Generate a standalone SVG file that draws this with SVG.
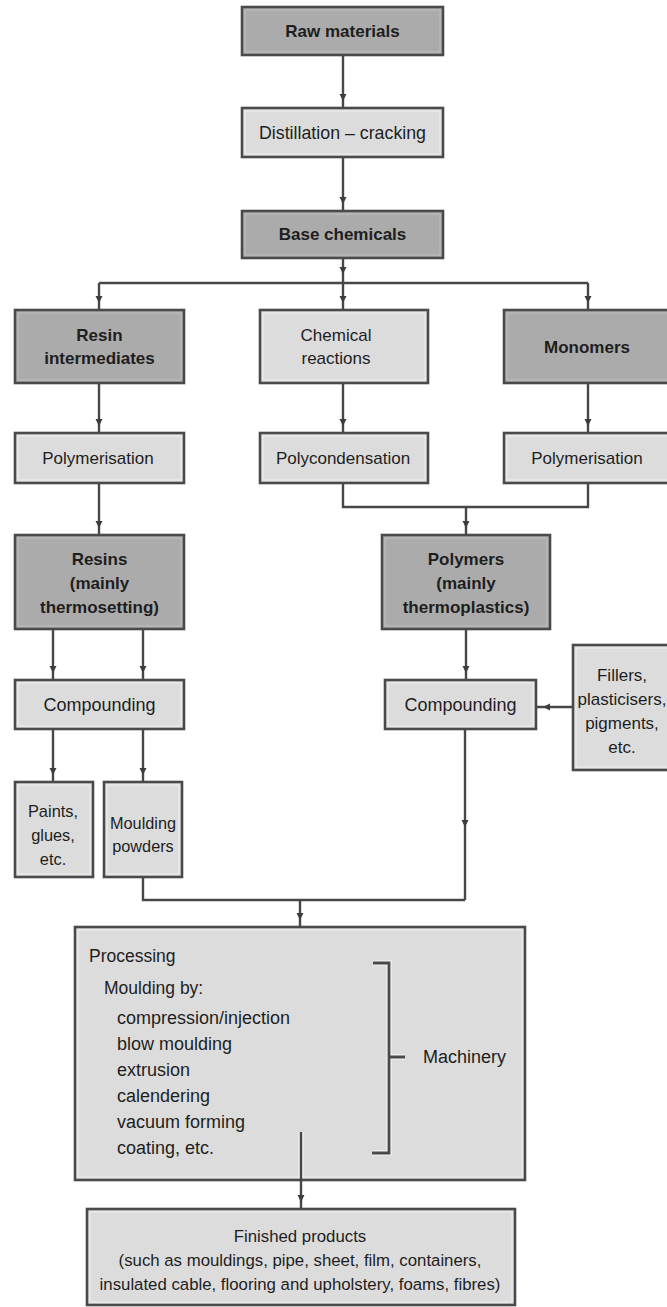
<svg xmlns="http://www.w3.org/2000/svg" width="667" height="1307" viewBox="0 0 667 1307">
  <defs>
    <marker id="ah" markerUnits="userSpaceOnUse" markerWidth="9" markerHeight="9" refX="7" refY="3.5" orient="auto">
      <path d="M0,0 L7,3.5 L0,7 z" fill="#3c3c3c"/>
    </marker>
  </defs>
  <style>
    rect.box { stroke: #4a4a4a; stroke-width: 2.6; }
    rect.dark { fill: #ababab; }
    rect.light { fill: #dcdcdd; }
    rect.hl { fill: none; stroke: #f4f4f4; stroke-width: 1; opacity: 0.8; }
    rect.hld { fill: none; stroke: #c4c4c4; stroke-width: 1; opacity: 0.8; }
    text { font-family: "Liberation Sans", Arial, sans-serif; fill: #1e1e1e; }
    text.b { font-weight: bold; font-size: 17px; text-anchor: middle; }
    text.r { font-size: 17px; text-anchor: middle; }
    text.p { font-size: 17.5px; }
    .conn path { fill: none; stroke: #474747; stroke-width: 2.4; }
    .conn path.a { marker-mid: url(#ah); }
    .halo { fill: none; stroke: #f2f2f2; stroke-width: 5.5; opacity: 0.8; }
    .brk { fill: none; stroke: #4a4a4a; stroke-width: 2.8; }
  </style>

  <!-- connectors -->
  <g id="connectors" class="conn">
    <path class="a" d="M343,55 V101 V108"/>
    <path class="a" d="M343,157 V204 V211"/>
    <path class="a" d="M343,258 V274 V283"/>
    <path d="M99,283 H588"/>
    <path class="a" d="M99,283 V303 V310"/>
    <path class="a" d="M343,283 V303 V310"/>
    <path class="a" d="M588,283 V303 V310"/>
    <path class="a" d="M99,383 V426 V433"/>
    <path class="a" d="M343,383 V426 V433"/>
    <path class="a" d="M588,383 V426 V433"/>
    <path class="a" d="M99,483 V528 V535"/>
    <path d="M343,483 V507 H588 V483"/>
    <path class="a" d="M466,507 V528 V535"/>
    <path class="a" d="M53,629 V673 V680"/>
    <path class="a" d="M143,629 V673 V680"/>
    <path class="a" d="M466,629 V673 V680"/>
    <path class="a" d="M573,707 H543 H536"/>
    <path class="a" d="M53,729 V775 V782"/>
    <path class="a" d="M143,729 V775 V782"/>
    <path class="a" d="M465,729 V827 V900"/>
    <path d="M465,900 H143 V877"/>
    <path class="a" d="M300,900 V920 V927"/>
  </g>

  <g id="raw-materials">
    <rect class="box dark" x="242" y="7" width="201" height="48"/>
    <rect class="hld" x="245" y="10" width="195" height="42"/>
    <text class="b" x="342.5" y="37">Raw materials</text>
  </g>

  <g id="distillation">
    <rect class="box light" x="242" y="108" width="201" height="49"/>
    <rect class="hl" x="245" y="111" width="195" height="43"/>
    <text class="r" x="342.5" y="139" style="font-size:17.8px">Distillation – cracking</text>
  </g>

  <g id="base-chemicals">
    <rect class="box dark" x="242" y="211" width="201" height="47"/>
    <rect class="hld" x="245" y="214" width="195" height="41"/>
    <text class="b" x="342.5" y="240">Base chemicals</text>
  </g>

  <g id="resin-intermediates">
    <rect class="box dark" x="15" y="310" width="169" height="73"/>
    <rect class="hld" x="18" y="313" width="163" height="67"/>
    <text class="b" x="99.5" y="341">Resin</text>
    <text class="b" x="99.5" y="364">intermediates</text>
  </g>

  <g id="chemical-reactions">
    <rect class="box light" x="260" y="310" width="168" height="73"/>
    <rect class="hl" x="263" y="313" width="162" height="67"/>
    <text class="r" x="336" y="341">Chemical</text>
    <text class="r" x="336" y="364">reactions</text>
  </g>

  <g id="monomers">
    <rect class="box dark" x="504" y="310" width="175" height="73"/>
    <rect class="hld" x="507" y="313" width="169" height="67"/>
    <text class="b" x="587" y="353">Monomers</text>
  </g>

  <g id="polymerisation-left">
    <rect class="box light" x="15" y="433" width="169" height="50"/>
    <rect class="hl" x="18" y="436" width="163" height="44"/>
    <text class="r" x="98" y="464">Polymerisation</text>
  </g>

  <g id="polycondensation">
    <rect class="box light" x="260" y="433" width="168" height="50"/>
    <rect class="hl" x="263" y="436" width="162" height="44"/>
    <text class="r" x="343" y="464">Polycondensation</text>
  </g>

  <g id="polymerisation-right">
    <rect class="box light" x="504" y="433" width="175" height="50"/>
    <rect class="hl" x="507" y="436" width="169" height="44"/>
    <text class="r" x="587" y="464">Polymerisation</text>
  </g>

  <g id="resins">
    <rect class="box dark" x="15" y="535" width="169" height="94"/>
    <rect class="hld" x="18" y="538" width="163" height="88"/>
    <text class="b" x="99.5" y="565">Resins</text>
    <text class="b" x="99.5" y="589">(mainly</text>
    <text class="b" x="99.5" y="613">thermosetting)</text>
  </g>

  <g id="polymers">
    <rect class="box dark" x="382" y="535" width="168" height="94"/>
    <rect class="hld" x="385" y="538" width="162" height="88"/>
    <text class="b" x="466" y="565">Polymers</text>
    <text class="b" x="466" y="589">(mainly</text>
    <text class="b" x="466" y="613">thermoplastics)</text>
  </g>

  <g id="compounding-left">
    <rect class="box light" x="15" y="680" width="169" height="49"/>
    <rect class="hl" x="18" y="683" width="163" height="43"/>
    <text class="r" x="99.5" y="711" style="font-size:18px">Compounding</text>
  </g>

  <g id="compounding-right">
    <rect class="box light" x="385" y="680" width="151" height="49"/>
    <rect class="hl" x="388" y="683" width="145" height="43"/>
    <text class="r" x="460.5" y="711" style="font-size:18px">Compounding</text>
  </g>

  <g id="fillers">
    <rect class="box light" x="573" y="645" width="100" height="125"/>
    <rect class="hl" x="576" y="648" width="94" height="119"/>
    <text class="r" x="622" y="681">Fillers,</text>
    <text class="r" x="622" y="705">plasticisers,</text>
    <text class="r" x="622" y="729">pigments,</text>
    <text class="r" x="622" y="753">etc.</text>
  </g>

  <g id="paints">
    <rect class="box light" x="15" y="782" width="78" height="95"/>
    <rect class="hl" x="18" y="785" width="72" height="89"/>
    <text class="r" x="53" y="817" style="font-size:16.4px">Paints,</text>
    <text class="r" x="53" y="841" style="font-size:16.4px">glues,</text>
    <text class="r" x="53" y="865" style="font-size:16.4px">etc.</text>
  </g>

  <g id="moulding-powders">
    <rect class="box light" x="104" y="782" width="78" height="95"/>
    <rect class="hl" x="107" y="785" width="72" height="89"/>
    <text class="r" x="143" y="829" style="font-size:16.3px">Moulding</text>
    <text class="r" x="143" y="852" style="font-size:16.3px">powders</text>
  </g>

  <g id="processing">
    <rect class="box light" x="75" y="927" width="450" height="253"/>
    <rect class="hl" x="78" y="930" width="444" height="247"/>
    <text class="p" x="89" y="962">Processing</text>
    <text class="p" x="104" y="994">Moulding by:</text>
    <text class="p" x="117" y="1024" style="font-size:18px">compression/injection</text>
    <text class="p" x="117" y="1050" style="font-size:18px">blow moulding</text>
    <text class="p" x="117" y="1076" style="font-size:18px">extrusion</text>
    <text class="p" x="117" y="1102" style="font-size:18px">calendering</text>
    <text class="p" x="117" y="1128" style="font-size:18px">vacuum forming</text>
    <text class="p" x="117" y="1154" style="font-size:18px">coating, etc.</text>
    <!-- bracket grouping the machinery -->
    <path class="halo" d="M373,963 H389 V1153 H372 M389,1057 H405"/>
    <path class="brk" d="M373,963 H389 V1153 H372 M389,1057 H405"/>
    <text class="p" x="423" y="1063" style="font-size:18px">Machinery</text>
    <path class="halo" d="M301,1132 V1178"/>
  </g>

  <g id="processing-out" class="conn">
    <path class="a" d="M301,1132 V1202 V1209"/>
  </g>

  <g id="finished-products">
    <rect class="box light" x="87" y="1209" width="428" height="96"/>
    <rect class="hl" x="90" y="1212" width="422" height="90"/>
    <text class="r" x="300" y="1242" style="font-size:16.8px">Finished products</text>
    <text class="r" x="300" y="1266" style="font-size:16.8px">(such as mouldings, pipe, sheet, film, containers,</text>
    <text class="r" x="300" y="1290" style="font-size:16.8px">insulated cable, flooring and upholstery, foams, fibres)</text>
  </g>
</svg>
